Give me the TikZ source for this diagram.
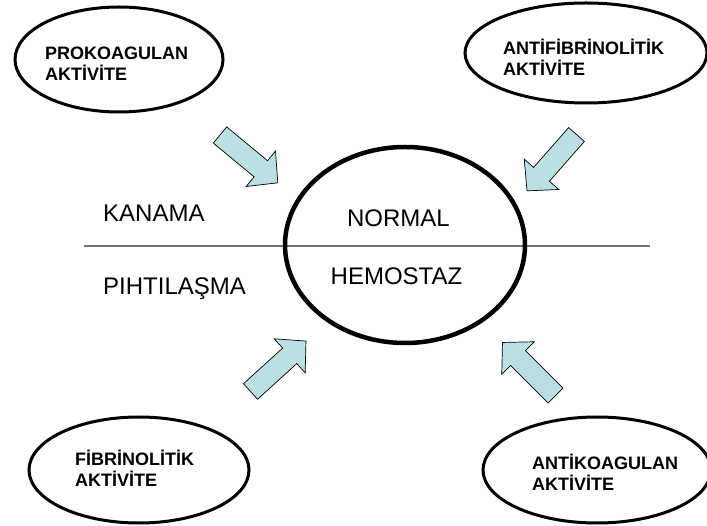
\documentclass[tikz,border=0pt]{standalone}
\usepackage{fontspec}
\setmainfont{Liberation Sans}
\usetikzlibrary{shapes.geometric}
\definecolor{arrowblue}{RGB}{187,224,227}
\begin{document}
\begin{tikzpicture}[x=1pt,y=-1pt,
  oval/.style={draw=black, line width=3pt, ellipse, inner sep=0pt},
  bigoval/.style={draw=black, line width=4.5pt, ellipse, inner sep=0pt},
  lbl/.style={font=\bfseries\fontsize{18}{21}\selectfont, align=left, inner sep=0pt},
  word/.style={font=\fontsize{24}{28}\selectfont, inner sep=0pt},
  divider/.style={draw=black!55, line width=1.5pt},
  blockarrow/.pic={\draw[fill=arrowblue, draw=black, line width=0.7pt, line join=miter]
     (0,-10.5) -- (53,-10.5) -- (53,-23) -- (75,0) -- (53,23) -- (53,10.5) -- (0,10.5) -- cycle;}
]
\useasboundingbox (0,0) rectangle (707,526);
\fill[white] (0,0) rectangle (707,526);

% divider line
\coordinate (hl1) at (84,246);
\coordinate (hl2) at (650,246);
\draw[divider] (hl1) -- (hl2);

% central ellipse
\node[bigoval, minimum width=240pt, minimum height=196pt] (center) at (405,245) {};
\node[word, anchor=base] (normal) at (398.5,227) {NORMAL};
\node[word, anchor=base] (hemo) at (396.5,285) {HEMOSTAZ};
\node[word, anchor=base west] (kanama) at (103,222) {KANAMA};
\node[word, anchor=base west] (pihti) at (103,295) {PIHTILAŞMA};

% outer ellipses
\node[oval, minimum width=208pt, minimum height=105pt] (pro) at (119,59.5) {};
\node[lbl, anchor=base west] (prot) at (45,81) {PROKOAGULAN\\AKTİVİTE};

\node[oval, minimum width=242pt, minimum height=100pt] (antif) at (586,53) {};
\node[lbl, anchor=base west] (antift) at (503,76) {ANTİFİBRİNOLİTİK\\AKTİVİTE};

\node[oval, minimum width=220pt, minimum height=106pt] (fib) at (139,470) {};
\node[lbl, anchor=base west] (fibt) at (75,486) {FİBRİNOLİTİK\\AKTİVİTE};

\node[oval, minimum width=228pt, minimum height=106pt] (antik) at (597,470) {};
\node[lbl, anchor=base west] (antikt) at (532,490) {ANTİKOAGULAN\\AKTİVİTE};

% block arrows
\coordinate (a1) at (220,135);
\coordinate (a2) at (576.5,134.5);
\coordinate (a3) at (250.5,391.5);
\coordinate (a4) at (555.5,395.5);
\pic[rotate=-39.6] at (a1) {blockarrow};
\pic[rotate=-131.3] at (a2) {blockarrow};
\pic[rotate=42.3] at (a3) {blockarrow};
\pic[rotate=135] at (a4) {blockarrow};
\end{tikzpicture}
\end{document}
